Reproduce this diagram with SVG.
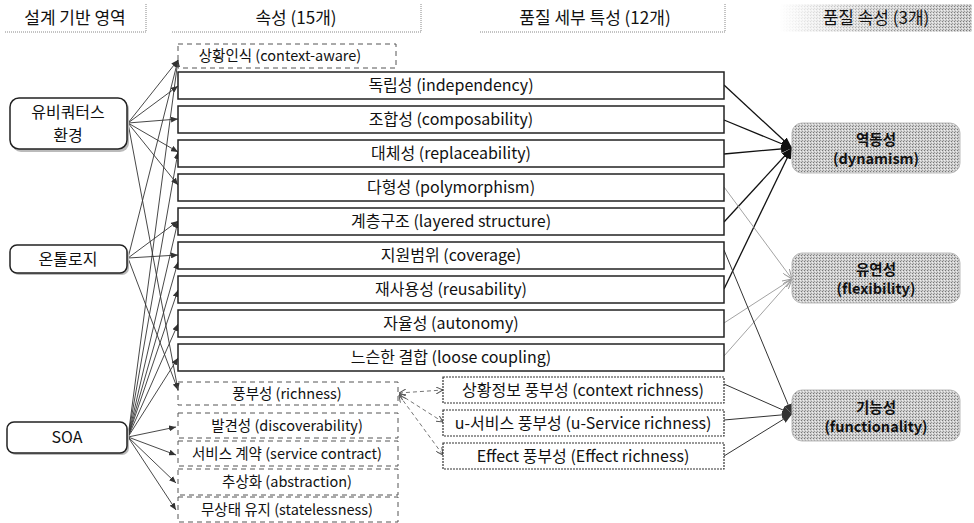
<svg xmlns="http://www.w3.org/2000/svg" width="974" height="523" viewBox="0 0 974 523">
<style>
text{font-family:"Noto Sans CJK KR","Liberation Sans",sans-serif;fill:#111;text-anchor:middle}
.hd{font-size:17px}
.nd{font-size:16px}
.t14{font-size:16px}
.t13{font-size:14.5px}
.qa{font-size:14.5px;font-weight:bold}
.box{fill:#fff;stroke:#222;stroke-width:1.5}
.dbox{fill:none;stroke:#555;stroke-width:1;stroke-dasharray:5,4}
.det{fill:#fff;stroke:#333;stroke-width:1.2;stroke-dasharray:2,1}
.hline{fill:none;stroke:#888;stroke-width:1;stroke-dasharray:1,1}
.node{fill:#fff;stroke:#222;stroke-width:1.5}
.shadow{fill:#bbb}
.qbox{fill:url(#dot);stroke:#bbb;stroke-width:1}
.lc{stroke:#333;stroke-width:0.9;fill:none;marker-end:url(#aS)}
.rk{stroke:#111;stroke-width:1.3;fill:none;marker-end:url(#aK)}
.rg{stroke:#999;stroke-width:0.9;fill:none;marker-end:url(#aG)}
.rd{stroke:#333;stroke-width:1;fill:none;marker-end:url(#aD)}
.dash{stroke:#666;stroke-width:0.9;fill:none;stroke-dasharray:4,3;marker-end:url(#aO);marker-start:url(#aOs)}
</style>
<defs>
<pattern id="dot" width="3" height="3" patternUnits="userSpaceOnUse">
<rect width="3" height="3" fill="#cfcfcf"/>
<rect width="1" height="1" fill="#777"/>
<rect x="1" y="2" width="1" height="1" fill="#999"/>
<rect x="2" y="1" width="1" height="1" fill="#eee"/>
</pattern>
<linearGradient id="fade" x1="0" y1="0" x2="1" y2="0">
<stop offset="0" stop-color="#fff" stop-opacity="1"/>
<stop offset="0.45" stop-color="#fff" stop-opacity="0.3"/>
<stop offset="1" stop-color="#fff" stop-opacity="0"/>
</linearGradient>
<marker id="aS" markerUnits="userSpaceOnUse" markerWidth="7" markerHeight="6" refX="7" refY="3" orient="auto"><path d="M0,0 L7,3 L0,6 z" fill="#333"/></marker>
<marker id="aK" markerUnits="userSpaceOnUse" markerWidth="11" markerHeight="8" refX="11" refY="4" orient="auto"><path d="M0,0 L11,4 L0,8 z" fill="#111"/></marker>
<marker id="aG" markerUnits="userSpaceOnUse" markerWidth="10" markerHeight="8" refX="10" refY="4" orient="auto"><path d="M0,0 L10,4 L0,8" fill="none" stroke="#999" stroke-width="1"/></marker>
<marker id="aD" markerUnits="userSpaceOnUse" markerWidth="10" markerHeight="8" refX="10" refY="4" orient="auto"><path d="M0,0 L10,4 L0,8 z" fill="#333"/></marker>
<marker id="aO" markerUnits="userSpaceOnUse" markerWidth="7" markerHeight="7" refX="7" refY="3.5" orient="auto"><path d="M0,0 L7,3.5 L0,7" fill="none" stroke="#555" stroke-width="1"/></marker>
<marker id="aOs" markerUnits="userSpaceOnUse" markerWidth="7" markerHeight="7" refX="0" refY="3.5" orient="auto"><path d="M7,0 L0,3.5 L7,7" fill="none" stroke="#555" stroke-width="1"/></marker>
</defs>

<g id="headers">
<g id="h-domain">
<path class="hline" d="M5,32 H146 M146,4 V32"/>
<text class="hd" x="75" y="24">설계 기반 영역</text>
</g>
<g id="h-attr">
<path class="hline" d="M172,32 H421 M421,4 V32"/>
<text class="hd" x="296" y="24">속성 (15개)</text>
</g>
<g id="h-detail">
<path class="hline" d="M480,32 H725 M725,4 V32"/>
<text class="hd" x="595" y="24">품질 세부 특성 (12개)</text>
</g>
<g id="h-quality">
<rect x="780" y="4" width="192" height="28" fill="url(#dot)"/>
<rect x="780" y="4" width="192" height="28" fill="url(#fade)"/>
<text class="hd" x="876" y="24">품질 속성 (3개)</text>
</g>
</g>

<g id="connectors">
<line class="lc" x1="128" y1="123" x2="178" y2="60"/>
<line class="lc" x1="128" y1="123" x2="178" y2="86"/>
<line class="lc" x1="128" y1="123" x2="178" y2="119"/>
<line class="lc" x1="128" y1="123" x2="178" y2="152"/>
<line class="lc" x1="128" y1="123" x2="178" y2="185"/>
<line class="lc" x1="128" y1="123" x2="178" y2="390"/>
<line class="lc" x1="128" y1="258" x2="178" y2="60"/>
<line class="lc" x1="128" y1="258" x2="178" y2="221"/>
<line class="lc" x1="128" y1="258" x2="178" y2="255"/>
<line class="lc" x1="128" y1="258" x2="178" y2="390"/>
<line class="lc" x1="128" y1="437" x2="178" y2="60"/>
<line class="lc" x1="128" y1="437" x2="178" y2="152"/>
<line class="lc" x1="128" y1="437" x2="178" y2="221"/>
<line class="lc" x1="128" y1="437" x2="178" y2="262"/>
<line class="lc" x1="128" y1="437" x2="178" y2="290"/>
<line class="lc" x1="128" y1="437" x2="178" y2="324"/>
<line class="lc" x1="128" y1="437" x2="178" y2="358"/>
<line class="lc" x1="128" y1="437" x2="176" y2="427"/>
<line class="lc" x1="128" y1="437" x2="176" y2="455"/>
<line class="lc" x1="128" y1="437" x2="176" y2="483"/>
<line class="lc" x1="128" y1="437" x2="176" y2="510"/>
<line class="dash" x1="399" y1="393" x2="443" y2="390"/>
<line class="dash" x1="399" y1="394" x2="443" y2="422"/>
<line class="dash" x1="399" y1="395" x2="443" y2="455"/>
<line class="rk" x1="724" y1="85" x2="792" y2="148"/>
<line class="rk" x1="724" y1="120" x2="792" y2="148"/>
<line class="rk" x1="724" y1="154" x2="792" y2="148"/>
<line class="rk" x1="724" y1="222" x2="792" y2="148"/>
<line class="rk" x1="724" y1="289" x2="792" y2="148"/>
<line class="rg" x1="724" y1="187" x2="792" y2="279"/>
<line class="rg" x1="724" y1="323" x2="792" y2="279"/>
<line class="rg" x1="724" y1="356" x2="792" y2="279"/>
<line class="rd" x1="724" y1="250" x2="792" y2="414"/>
<line class="rd" x1="724" y1="384" x2="792" y2="414"/>
<line class="rd" x1="724" y1="420" x2="792" y2="414"/>
<line class="rd" x1="724" y1="456" x2="792" y2="414"/>
</g>

<g id="n-ubiquitous">
<rect class="shadow" x="12" y="100" width="117" height="52" rx="9"/>
<rect class="node" x="10" y="98" width="117" height="51" rx="9"/>
<text class="nd" x="68" y="118">유비쿼터스</text>
<text class="nd" x="68" y="141">환경</text>
</g>
<g id="n-ontology">
<rect class="shadow" x="12" y="247" width="117" height="28" rx="7"/>
<rect class="node" x="10" y="245" width="117" height="28" rx="7"/>
<text class="nd" x="68" y="265">온톨로지</text>
</g>
<g id="n-soa">
<rect class="shadow" x="9" y="424" width="120" height="31" rx="7"/>
<rect class="node" x="7" y="422" width="120" height="31" rx="7"/>
<text class="nd" x="67" y="443">SOA</text>
</g>

<g id="a-context-aware">
<rect class="dbox" x="178" y="44" width="218" height="24"/>
<text class="t13" x="280" y="61">상황인식 (context-aware)</text>
</g>
<g id="a-independency"><rect class="box" x="178" y="72" width="546" height="27"/><text class="t14" x="451" y="91">독립성 (independency)</text></g>
<g id="a-composability"><rect class="box" x="178" y="106" width="546" height="27"/><text class="t14" x="451" y="125">조합성 (composability)</text></g>
<g id="a-replaceability"><rect class="box" x="178" y="140" width="546" height="27"/><text class="t14" x="451" y="159">대체성 (replaceability)</text></g>
<g id="a-polymorphism"><rect class="box" x="178" y="174" width="546" height="27"/><text class="t14" x="451" y="193">다형성 (polymorphism)</text></g>
<g id="a-layered"><rect class="box" x="178" y="208" width="546" height="27"/><text class="t14" x="451" y="227">계층구조 (layered structure)</text></g>
<g id="a-coverage"><rect class="box" x="178" y="242" width="546" height="27"/><text class="t14" x="451" y="261">지원범위 (coverage)</text></g>
<g id="a-reusability"><rect class="box" x="178" y="276" width="546" height="27"/><text class="t14" x="451" y="295">재사용성 (reusability)</text></g>
<g id="a-autonomy"><rect class="box" x="178" y="310" width="546" height="27"/><text class="t14" x="451" y="329">자율성 (autonomy)</text></g>
<g id="a-loose"><rect class="box" x="178" y="344" width="546" height="27"/><text class="t14" x="451" y="363">느슨한 결합 (loose coupling)</text></g>

<g id="a-richness"><rect class="dbox" x="178" y="382" width="220" height="23"/><text class="t13" x="287" y="399">풍부성 (richness)</text></g>
<g id="a-discoverability"><rect class="dbox" x="178" y="413" width="220" height="25"/><text class="t13" x="287" y="431">발견성 (discoverability)</text></g>
<g id="a-contract"><rect class="dbox" x="178" y="441" width="220" height="25"/><text class="t13" x="287" y="459">서비스 계약 (service contract)</text></g>
<g id="a-abstraction"><rect class="dbox" x="178" y="469" width="220" height="26"/><text class="t13" x="287" y="487">추상화 (abstraction)</text></g>
<g id="a-stateless"><rect class="dbox" x="178" y="497" width="220" height="25"/><text class="t13" x="287" y="515">무상태 유지 (statelessness)</text></g>

<g id="d-context"><rect class="det" x="443" y="377" width="281" height="26"/><text class="t14" x="583" y="396">상황정보 풍부성 (context richness)</text></g>
<g id="d-service"><rect class="det" x="443" y="410" width="281" height="26"/><text class="t14" x="583" y="429">u-서비스 풍부성 (u-Service richness)</text></g>
<g id="d-effect"><rect class="det" x="443" y="443" width="281" height="26"/><text class="t14" x="583" y="462">Effect 풍부성 (Effect richness)</text></g>

<g id="q-dynamism"><rect class="qbox" x="792" y="123" width="168" height="50" rx="10"/><text class="qa" x="876" y="145">역동성</text><text class="qa" x="876" y="164">(dynamism)</text></g>
<g id="q-flexibility"><rect class="qbox" x="792" y="253" width="168" height="50" rx="10"/><text class="qa" x="876" y="275">유연성</text><text class="qa" x="876" y="294">(flexibility)</text></g>
<g id="q-functionality"><rect class="qbox" x="792" y="390" width="168" height="51" rx="10"/><text class="qa" x="876" y="413">기능성</text><text class="qa" x="876" y="432">(functionality)</text></g>
</svg>
